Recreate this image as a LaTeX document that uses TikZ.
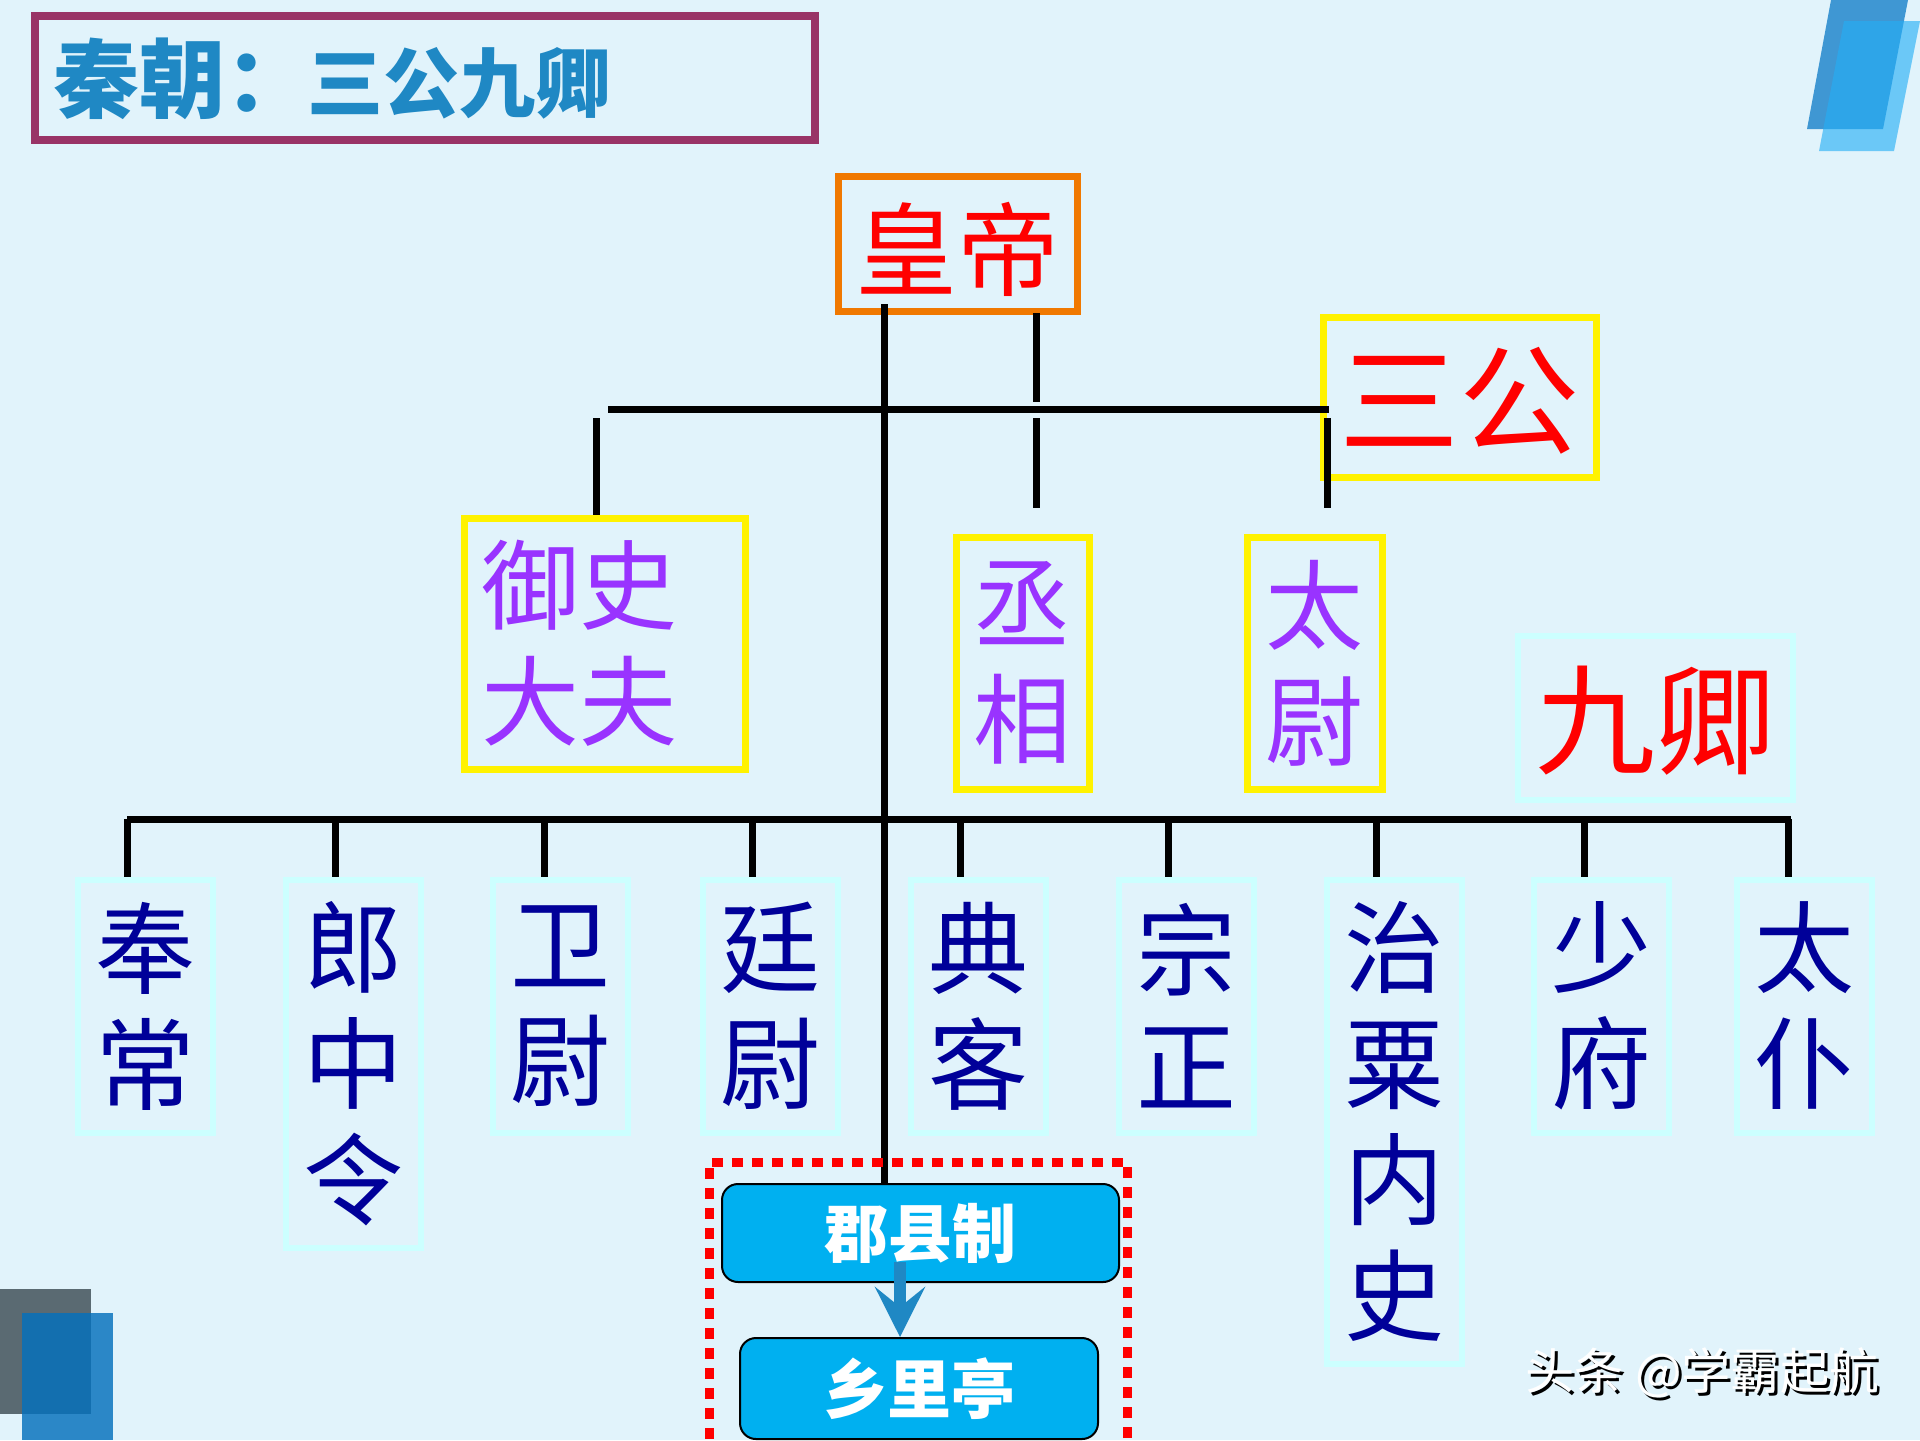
\documentclass[tikz,border=0pt]{standalone}
\usepackage{fontspec}
\setmainfont{Noto Sans CJK SC}
\usetikzlibrary{arrows.meta}
\definecolor{bgblue}{HTML}{E1F3FB}
\definecolor{titleblue}{HTML}{1F88C4}
\definecolor{titlered}{HTML}{993366}
\definecolor{lineorange}{HTML}{F07800}
\definecolor{palecyan}{HTML}{CCFFFF}
\definecolor{gongpurple}{HTML}{9933FF}
\definecolor{qingblue}{HTML}{000099}
\definecolor{flowblue}{HTML}{00B0F0}
\definecolor{cornerdark}{HTML}{3F97D3}
\definecolor{cornerlight}{HTML}{24AEF6}
\definecolor{cornergray}{HTML}{5A6A72}
\definecolor{cornerdeep}{HTML}{0471BD}
\newcommand{\wmtext}[1]{\rlap{\kern1.5pt\raisebox{-1.5pt}{\color{black}#1}}{\color{white}#1}}
\tikzset{
  bar/.style={line width=3.5pt},
  bigtext/.style={font=\fontsize{50}{58}\selectfont, align=center, inner sep=0pt, execute at begin node={\rule{0pt}{49.5pt}}},
  redtext/.style={font=\fontsize{60}{60}\selectfont, text=red, execute at begin node={\rule{0pt}{53pt}}},
  gongbox/.style={bigtext, font=\fontsize{49}{58}\selectfont, draw=yellow, line width=3.5pt, text=gongpurple},
  qingbox/.style={bigtext, draw=palecyan, line width=3pt, text=qingblue, minimum width=67.5pt},
  flowbox/.style={draw=black, line width=1pt, fill=flowblue, rounded corners=8pt, text=white,
    font=\fontsize{32}{32}\selectfont\bfseries, inner sep=0pt},
}
\begin{document}
\begin{tikzpicture}[x=0.5pt,y=-0.5pt]
  \useasboundingbox (0,0) rectangle (1920,1440);
  \clip (0,0) rectangle (1920,1440);
  \fill[bgblue] (0,0) rectangle (1920,1440);

  % Corner shapes
  \fill[cornerdark] (1831,0) -- (1908,0) -- (1883,129) -- (1807,129) -- cycle;
  \fill[cornerlight, opacity=.62] (1844,21) -- (1920,21) -- (1894,151) -- (1819,151) -- cycle;
  \fill[cornergray] (0,1289) rectangle (91,1414);
  \fill[cornerdeep, opacity=.825] (22,1313) rectangle (113,1440);

  % Title
  \node[draw=titlered, line width=4pt, minimum width=390pt, minimum height=62pt] (titlebox) at (424.5,77.5) {};
  \node[anchor=west, inner sep=0pt, text=titleblue, font=\bfseries] (title) at (53,79)
    {\fontsize{43}{43}\selectfont 秦朝：\hspace{-2pt}\fontsize{38}{38}\selectfont 三公九卿};

  % Upper nodes
  \node[bigtext, draw=lineorange, line width=3.5pt, text=red, font=\fontsize{51}{51}\selectfont, minimum width=119.5pt, minimum height=67.5pt] (huangdi) at (957.5,243.5) {皇帝};
  \node[bigtext, redtext, draw=yellow, line width=3.5pt, minimum width=136.5pt, minimum height=80pt] (sangong) at (1459.5,397) {三公};
  \node[bigtext, redtext, draw=palecyan, line width=3pt, minimum width=137.5pt, minimum height=82pt] (jiuqing) at (1655,717.5) {九卿};
  \node[gongbox, minimum width=140.5pt, minimum height=125.5pt] (yushi) at (604.5,643.5) {御史\hspace*{25pt}\\大夫\hspace*{25pt}};
  \node[gongbox, minimum width=66.5pt, minimum height=126pt] (chengxiang) at (1022.5,663) {丞\\相};
  \node[gongbox, minimum width=67.5pt, minimum height=126pt] (taiwei) at (1314.5,663) {太\\尉};

  % Lower nodes
  \node[qingbox, minimum height=126.5pt] (fengchang) at (145,1006) {奉\\常};
  \node[qingbox, minimum height=184pt] (langzhong) at (353,1063.5) {郎\\中\\令};
  \node[qingbox, minimum height=126.5pt] (weiwei) at (560.5,1006) {卫\\尉};
  \node[qingbox, minimum height=126.5pt] (tingwei) at (770,1006) {廷\\尉};
  \node[qingbox, minimum height=126.5pt] (dianke) at (978,1006) {典\\客};
  \node[qingbox, minimum height=126.5pt] (zongzheng) at (1186,1006) {宗\\正};
  \node[qingbox, minimum height=242pt] (zhisu) at (1394.5,1121.5) {治\\粟\\内\\史};
  \node[qingbox, minimum height=126.5pt] (shaofu) at (1601.5,1006) {少\\府};
  \node[qingbox, minimum height=126.5pt] (taipu) at (1804.5,1006) {太\\仆};

  % Flow nodes
  \node[flowbox, minimum width=198.5pt, minimum height=49pt] (junxian) at (920.5,1233) {郡县制};
  \node[flowbox, minimum width=179pt, minimum height=50.5pt] (xiangli) at (919,1388.5) {乡里亭};

  % Points on the lines
  \coordinate (trunktop) at (884,304);
  \coordinate (secondtop) at (1036,313);
  \coordinate (secondend) at (1036,402);
  \coordinate (upperleft) at (608,409);
  \coordinate (upperright) at (1329,409);
  \coordinate (drop1) at (596,418);
  \coordinate (drop2) at (1036,418);
  \coordinate (drop2end) at (1036,508);
  \coordinate (drop3) at (1327,418);
  \coordinate (drop3end) at (1327,508);
  \coordinate (lowerleft) at (127,819);
  \coordinate (lowerright) at (1791,819);
  \coordinate (low1) at (127,819);
  \coordinate (low2) at (335,819);
  \coordinate (low3) at (544,819);
  \coordinate (low4) at (752,819);
  \coordinate (low5) at (960,819);
  \coordinate (low6) at (1168,819);
  \coordinate (low7) at (1376,819);
  \coordinate (low8) at (1584,819);
  \coordinate (low9) at (1788,819);

  % Lines going down
  \draw[bar] (trunktop) -- (trunktop |- junxian.north);
  \draw[bar] (secondtop) -- (secondend);
  \draw[bar] (upperleft) -- (upperright);
  \draw[bar] (drop1) -- (drop1 |- yushi.north);
  \draw[bar] (drop2) -- (drop2end);
  \draw[bar] (drop3) -- (drop3end);
  \draw[bar] (lowerleft) -- (lowerright);

  % Lines going to the lower nodes
  \draw[bar] (low1) -- (low1 |- fengchang.north);
  \draw[bar] (low2) -- (low2 |- langzhong.north);
  \draw[bar] (low3) -- (low3 |- weiwei.north);
  \draw[bar] (low4) -- (low4 |- tingwei.north);
  \draw[bar] (low5) -- (low5 |- dianke.north);
  \draw[bar] (low6) -- (low6 |- zongzheng.north);
  \draw[bar] (low7) -- (low7 |- zhisu.north);
  \draw[bar] (low8) -- (low8 |- shaofu.north);
  \draw[bar] (low9) -- (low9 |- taipu.north);

  % Dotted frame and arrow
  \node[draw=red, line width=4.5pt, dash pattern=on 5.5pt off 4.5pt, minimum width=209pt, minimum height=169pt] (frame) at (918,1331) {};
  \coordinate (arrowtop) at (900,1262);
  \draw[-{Stealth[length=25pt,width=25pt,inset=10pt]}, line width=6pt, titleblue] (arrowtop) -- (arrowtop |- xiangli.north);

  % Watermark
  \node[inner sep=0pt, font=\fontsize{24.6}{24.6}\selectfont] (watermark) at (1702,1374) {\wmtext{头条 @学霸起航}};
\end{tikzpicture}
\end{document}
